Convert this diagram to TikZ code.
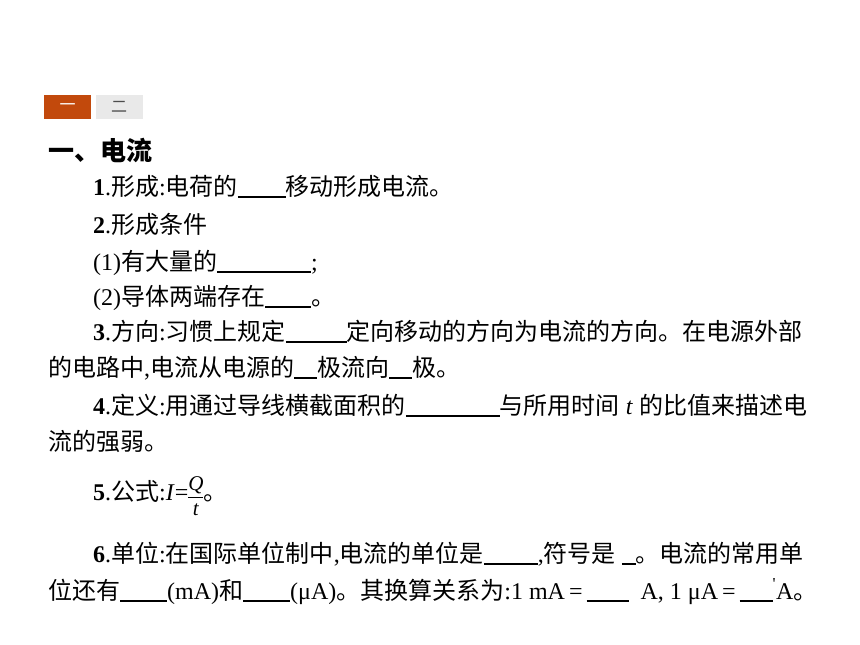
\documentclass[tikz,border=0pt]{standalone}
\usepackage{fontspec}
\setmainfont{Noto Sans CJK SC}
\newfontfamily\latn{Liberation Serif}
\usepackage{xcolor}
\definecolor{tabOrange}{HTML}{C2490C}
\definecolor{tabGray}{HTML}{E9E9E9}
\newcommand{\blank}[1]{\rule[-3pt]{#1pt}{1.6pt}}
\newcommand{\num}[1]{{\latn\textbf{#1}.}}
\newcommand{\tx}[1]{{\latn #1}}
\newcommand{\fracsym}[1]{\mbox{\fontsize{21}{24}\selectfont\latn\itshape #1}}
\newcommand{\qtfrac}{%
  \makebox[15pt][c]{\raisebox{10pt}{\fracsym{Q}}}\hspace{-15pt}%
  \makebox[15pt][c]{\raisebox{-15pt}{\fracsym{t}}}\hspace{-15pt}%
  \rule[3pt]{15pt}{0.4pt}}

\begin{document}
\begin{tikzpicture}[
      x=1pt, y=-1pt,
      txtline/.style={anchor=base west, inner sep=0pt, font=\fontsize{24}{28}\selectfont},
      tab/.style={minimum width=47pt, minimum height=24pt, inner sep=0pt, font=\fontsize{16}{18}\selectfont}
    ]
    \useasboundingbox (0,0) rectangle (860,645);
    % tabs
    \node[tab, fill=tabOrange, text=white] (tabA) at (67.5,107) {一};
    \node[tab, fill=tabGray, text=black!70] (tabB) at (119,107) {二};
    % heading
    \node[anchor=base west, inner sep=0pt, font=\fontsize{26}{30}\selectfont\bfseries] (head) at (48,160) {一、电流};
    % items
    \node[txtline] (l1) at (93,195) {\num{1}形成\tx{:}电荷的\blank{48}移动形成电流。};
    \node[txtline] (l2) at (93,233) {\num{2}形成条件};
    \node[txtline] (l2a) at (93,270) {\tx{(1)}有大量的\blank{94}\tx{;}};
    \node[txtline] (l2b) at (93,305) {\tx{(2)}导体两端存在\blank{46}。};
    \node[txtline] (l3) at (93,340) {\num{3}方向\tx{:}习惯上规定\blank{61}定向移动的方向为电流的方向。在电源外部};
    \node[txtline] (l3b) at (48,376) {的电路中\tx{,}电流从电源的\blank{23}极流向\blank{23}极。};
    \node[txtline] (l4) at (93,414) {\num{4}定义\tx{:}用通过导线横截面积的\blank{94}与所用时间\tx{ \textit{t} }的比值来描述电};
    \node[txtline] (l4b) at (48,450) {流的强弱。};
    \node[txtline] (l5) at (93,500) {\num{5}公式\tx{:\textit{I}=}\qtfrac。};
    \node[txtline] (l6) at (93,562) {\num{6}单位\tx{:}在国际单位制中\tx{,}电流的单位是\blank{54}\tx{,}符号是\tx{ }\blank{14}。电流的常用单};
    \node[txtline] (l6b) at (48,599) {位还有\blank{47}\tx{(mA)}和\blank{47}\tx{(μA)}。其换算关系为\tx{:1 mA\,=\,}\blank{42}\tx{\ \ A, 1 μA\,=\,}\blank{33}\tx{\textsuperscript{'}A}。};
\end{tikzpicture}
\end{document}
